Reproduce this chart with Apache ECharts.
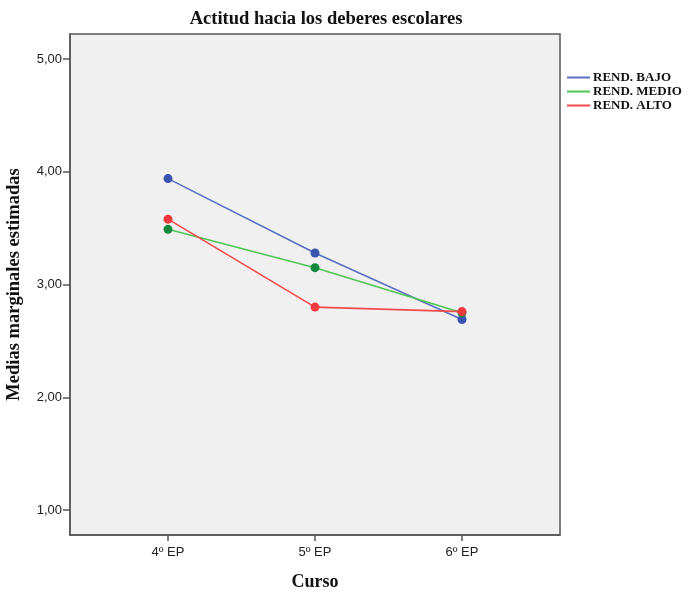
<!DOCTYPE html>
<html><head><meta charset="utf-8">
<script src="https://cdn.jsdelivr.net/npm/echarts@6/dist/echarts.min.js"></script>
<style>html,body{margin:0;padding:0;background:#fff}#c{width:685px;height:591px}</style>
</head><body><div id="c"></div>
<script>
const categories = ['4º EP', '5º EP', '6º EP'];
const yTicks = [1, 2, 3, 4, 5];
const rendBajo = [3.94, 3.28, 2.69];
const rendMedio = [3.49, 3.15, 2.75];
const rendAlto = [3.58, 2.80, 2.76];
const seriesNames = ['REND. BAJO', 'REND. MEDIO', 'REND. ALTO'];
const lineColors = ['#5a6fc0', '#4fc554', '#f24a4a'];
const dotColors = ['#3953ae', '#118a3e', '#ef3a3f'];

const chart = echarts.init(document.getElementById('c'));
function pts(arr){ return arr.map((v,i)=>[i+1, v]); }
const serif = '"Liberation Serif", "DejaVu Serif", serif';
const sans = '"Liberation Sans", Arial, sans-serif';
function mk(i, data){
  return {name: seriesNames[i], type:'line', data: pts(data), symbol:'circle', symbolSize:9,
    lineStyle:{color:lineColors[i], width:1.6}, itemStyle:{color:dotColors[i]},
    emphasis:{disabled:true}, z: 3};
}
chart.setOption({
  animation:false,
  title:{text:'Actitud hacia los deberes escolares', left:321, textAlign:'center', top:5,
    textStyle:{fontFamily:serif, fontWeight:'bold', fontSize:18.5, color:'#111'}},
  legend:{orient:'vertical', left:562, top:66, itemGap:1, itemWidth:23, itemHeight:2, icon:'rect',
    textStyle:{fontFamily:serif, fontWeight:'bold', fontSize:13, color:'#111', padding:[0,0,0,-2]},
    data: seriesNames.map((n,i)=>({name:n, itemStyle:{color:lineColors[i]}}))},
  grid:{left:70, top:34, width:490, height:501, show:true, backgroundColor:'#f0f0f0', borderColor:'#555', borderWidth:1.5, outerBoundsMode:'none', containLabel:false},
  xAxis:{type:'value', min:1/3, max:11/3,
    name:'Curso', nameLocation:'middle', nameGap:38,
    nameTextStyle:{fontFamily:serif, fontWeight:'bold', fontSize:18, color:'#111'},
    splitLine:{show:false},
    axisLine:{show:true, lineStyle:{color:'#555', width:1.5}},
    axisTick:{show:true, length:6, customValues:[1,2,3], lineStyle:{color:'#555', width:1.5}},
    axisLabel:{customValues:[1,2,3], formatter:v=>categories[Math.round(v)-1]||'', fontFamily:sans, fontSize:13, color:'#222', margin:11}},
  yAxis:{type:'value', min:0.778, max:5.223,
    name:'Medias marginales estimadas', nameLocation:'middle', nameGap:46,
    nameTextStyle:{fontFamily:serif, fontWeight:'bold', fontSize:18.5, color:'#111'},
    splitLine:{show:false},
    axisLine:{show:true, lineStyle:{color:'#555', width:1.5}},
    axisTick:{show:true, length:7, customValues:yTicks, lineStyle:{color:'#555', width:1.5}},
    axisLabel:{customValues:yTicks, formatter:v=>v.toFixed(2).replace('.', ','), fontFamily:sans, fontSize:13, color:'#222', margin:8}},
  series:[ mk(0, rendBajo), mk(1, rendMedio), mk(2, rendAlto) ]
});
</script></body></html>
